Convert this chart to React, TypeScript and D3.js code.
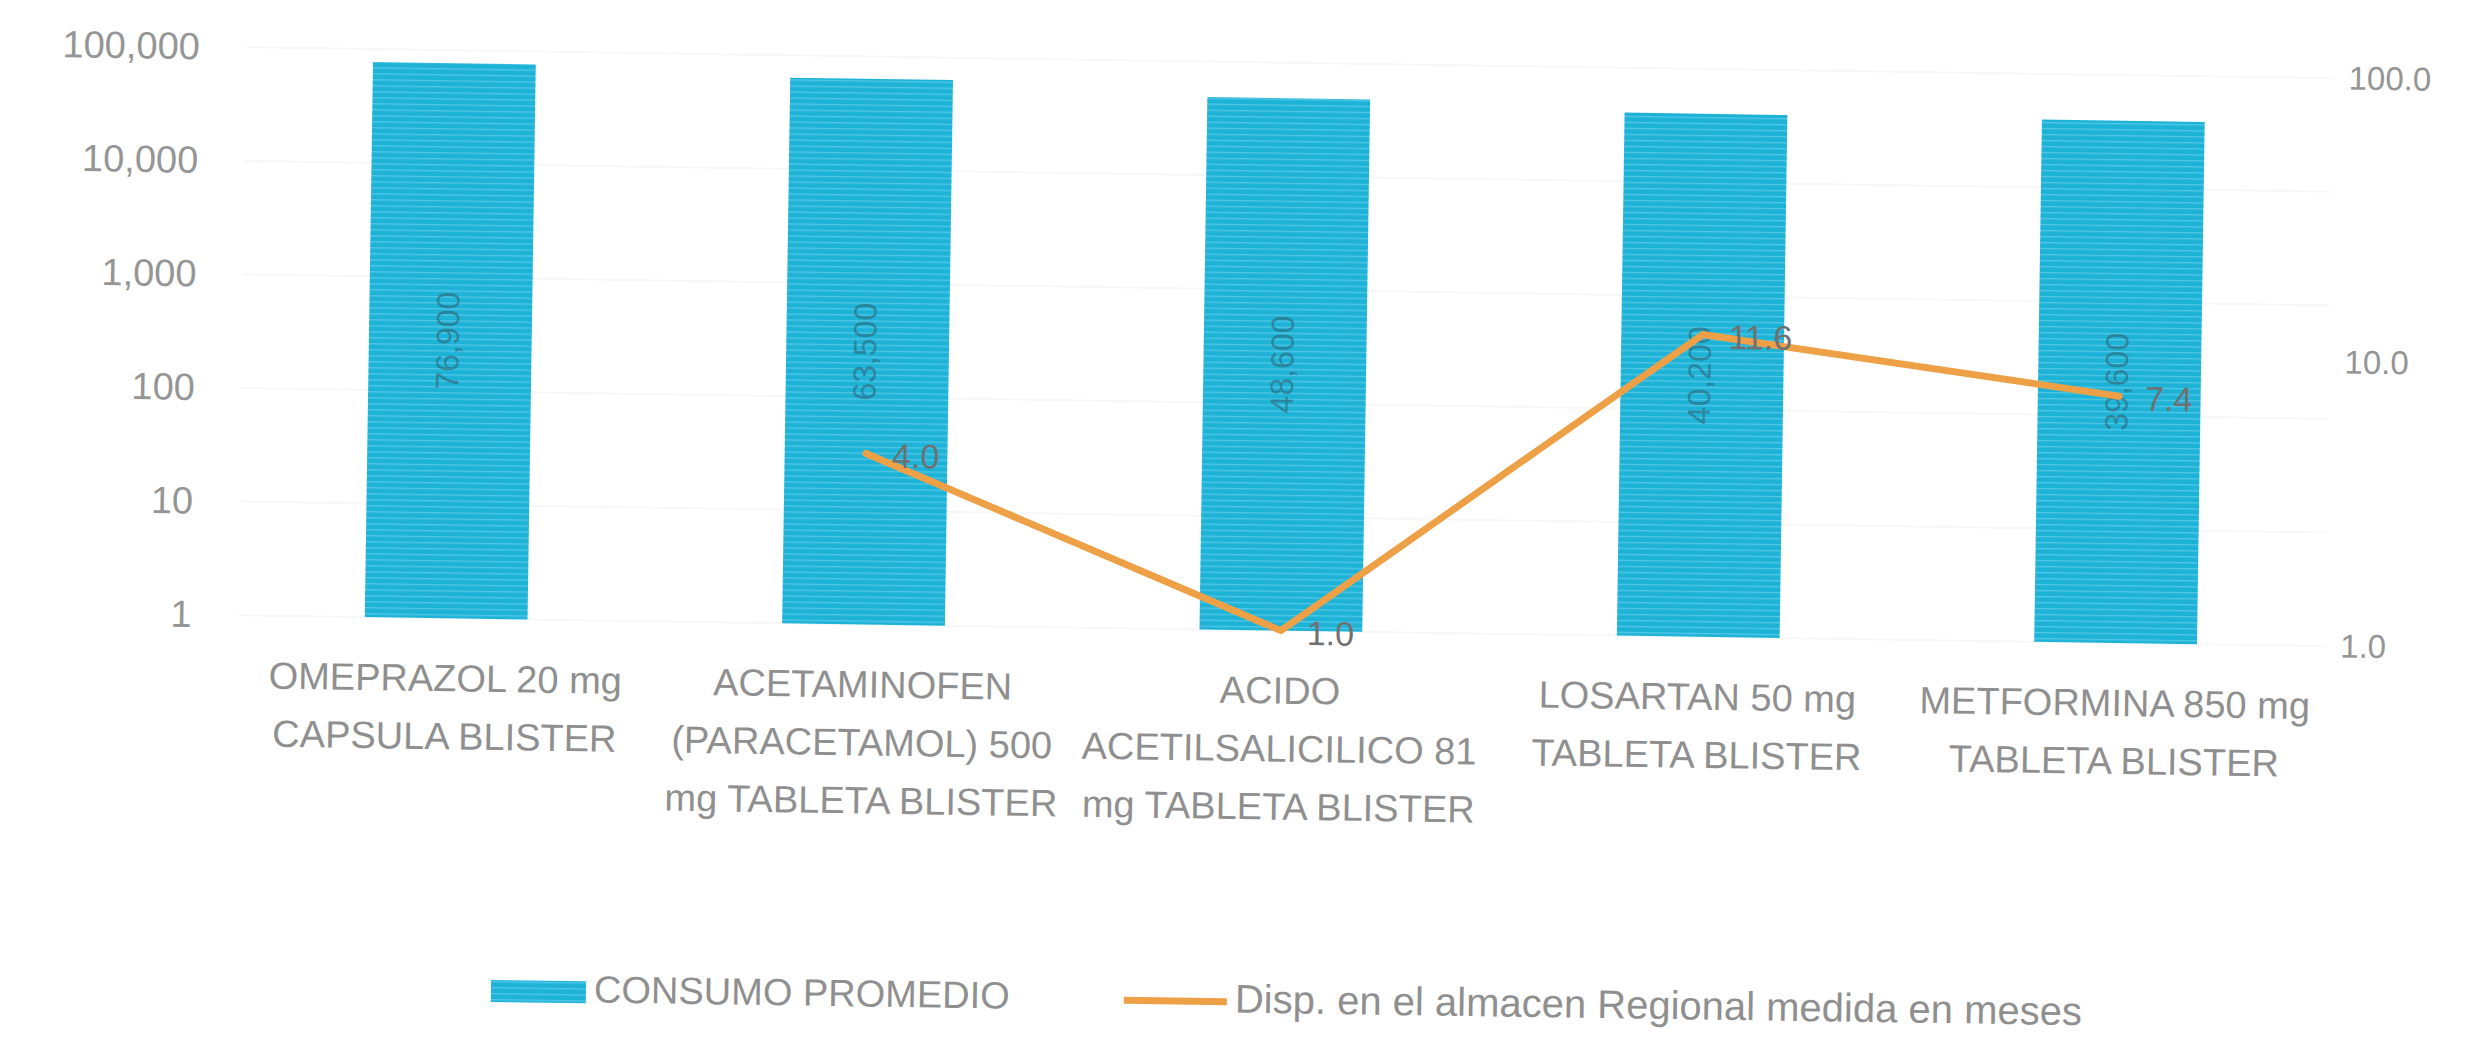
import React, { useEffect, useRef } from 'react';
import * as d3 from 'd3';

// Categories (wrapped as in the original chart)
const CATEGORY_LINES: string[][] = [
  ['OMEPRAZOL 20 mg', 'CAPSULA BLISTER'],
  ['ACETAMINOFEN', '(PARACETAMOL) 500', 'mg TABLETA BLISTER'],
  ['ACIDO', 'ACETILSALICILICO 81', 'mg TABLETA BLISTER'],
  ['LOSARTAN 50 mg', 'TABLETA BLISTER'],
  ['METFORMINA 850 mg', 'TABLETA BLISTER'],
];

// Consumo promedio (left, log axis)
const CONSUMO = [76900, 63500, 48600, 40200, 39600];
// Disponibilidad en meses (right, log axis) - first product has no value
const DISP: (number | null)[] = [null, 4.0, 1.0, 11.6, 7.4];

const LEFT_TICKS = [1, 10, 100, 1000, 10000, 100000];
const RIGHT_TICKS = [1, 10, 100];

const SERIES_NAMES = ['CONSUMO PROMEDIO', 'Disp. en el almacen Regional medida en meses'];

const BAR_COLOR = '#1db3d7';
const LINE_COLOR = '#eea046';
const FONT = '"Liberation Sans", Arial, sans-serif';

const App: React.FC = () => {
  const svgRef = useRef<SVGSVGElement>(null);

  useEffect(() => {
    if (!svgRef.current) return;
    d3.select(svgRef.current).selectAll('*').remove();

    const W = 2481;
    const H = 1045;
    const plot = { left: 239, right: 2326, top: 62, bottom: 630 };

    const svg = d3.select(svgRef.current).attr('width', W).attr('height', H);

    svg.append('rect').attr('width', W).attr('height', H).attr('fill', '#ffffff');

    // scan texture for the bars
    const defs = svg.append('defs');
    const pat = defs.append('pattern')
      .attr('id', 'scanBar')
      .attr('patternUnits', 'userSpaceOnUse')
      .attr('width', 40)
      .attr('height', 6);
    pat.append('rect').attr('width', 40).attr('height', 6).attr('fill', BAR_COLOR);
    pat.append('rect').attr('y', 2).attr('width', 40).attr('height', 1.4).attr('fill', '#5ccbe8').attr('opacity', 0.8);

    // the scanned page is slightly tilted
    const g = svg.append('g').attr('transform', 'rotate(0.85, 1240, 520)');

    const x = d3.scaleBand<number>()
      .domain(d3.range(CONSUMO.length))
      .range([plot.left, plot.right])
      .paddingInner(0.61)
      .paddingOuter(0.305);

    const yLeft = d3.scaleLog().domain([1, 100000]).range([plot.bottom, plot.top]);
    const yRight = d3.scaleLog().domain([1, 100]).range([plot.bottom, plot.top]);

    // faint gridlines
    g.append('g')
      .selectAll('line')
      .data(LEFT_TICKS)
      .enter()
      .append('line')
      .attr('x1', plot.left)
      .attr('x2', plot.right)
      .attr('y1', d => yLeft(d))
      .attr('y2', d => yLeft(d))
      .attr('stroke', '#f7f7f7')
      .attr('stroke-width', 2);

    // left axis
    const leftAxis = g.append('g')
      .attr('transform', `translate(${plot.left},0)`)
      .call(d3.axisLeft(yLeft).tickValues(LEFT_TICKS).tickFormat(d3.format(',') as any).tickSize(0).tickPadding(46));
    leftAxis.select('.domain').remove();
    leftAxis.selectAll('text')
      .attr('font-family', FONT)
      .attr('font-size', 38)
      .attr('fill', '#959595');

    // right axis
    const rightAxis = g.append('g')
      .attr('transform', `translate(${plot.right},0)`)
      .call(d3.axisRight(yRight).tickValues(RIGHT_TICKS).tickFormat(d3.format('.1f') as any).tickSize(0).tickPadding(16));
    rightAxis.select('.domain').remove();
    rightAxis.selectAll('text')
      .attr('font-family', FONT)
      .attr('font-size', 33)
      .attr('fill', '#959595');

    // bars
    g.append('g')
      .selectAll('rect')
      .data(CONSUMO)
      .enter()
      .append('rect')
      .attr('x', (d, i) => x(i)!)
      .attr('width', x.bandwidth())
      .attr('y', d => yLeft(d))
      .attr('height', d => yLeft(1) - yLeft(d))
      .attr('fill', 'url(#scanBar)');

    // bar value labels (rotated, centered)
    g.append('g')
      .selectAll('text')
      .data(CONSUMO)
      .enter()
      .append('text')
      .attr('transform', (d, i) => {
        const cx = x(i)! + x.bandwidth() / 2;
        const cy = (yLeft(d) + yLeft(1)) / 2;
        return `translate(${cx},${cy}) rotate(-90)`;
      })
      .attr('text-anchor', 'middle')
      .attr('dominant-baseline', 'middle')
      .attr('font-family', FONT)
      .attr('font-size', 32)
      .attr('fill', '#2f5663')
      .attr('opacity', 0.5)
      .text(d => d3.format(',')(d));

    // line series
    const pts = DISP.map((v, i) => ({ v, i }));
    const line = d3.line<{ v: number | null; i: number }>()
      .defined(d => d.v != null)
      .x(d => x(d.i)! + x.bandwidth() / 2)
      .y(d => yRight(d.v as number));

    g.append('path')
      .datum(pts)
      .attr('d', line)
      .attr('fill', 'none')
      .attr('stroke', LINE_COLOR)
      .attr('stroke-width', 7)
      .attr('stroke-linejoin', 'round')
      .attr('stroke-linecap', 'round');

    g.append('g')
      .selectAll('text')
      .data(pts.filter(d => d.v != null))
      .enter()
      .append('text')
      .attr('x', d => x(d.i)! + x.bandwidth() / 2 + 26)
      .attr('y', d => yRight(d.v as number) + 5)
      .attr('dominant-baseline', 'middle')
      .attr('font-family', FONT)
      .attr('font-size', 34)
      .attr('fill', '#707070')
      .text(d => d3.format('.1f')(d.v as number));

    // category labels
    const cat = g.append('g')
      .selectAll('text')
      .data(CATEGORY_LINES)
      .enter()
      .append('text')
      .attr('text-anchor', 'middle')
      .attr('font-family', FONT)
      .attr('font-size', 38)
      .attr('fill', '#8f8f8f');
    cat.each(function (lines, i) {
      const t = d3.select(this);
      lines.forEach((ln, j) => {
        t.append('tspan')
          .attr('x', x(i)! + x.bandwidth() / 2)
          .attr('y', plot.bottom + 63 + j * 58)
          .attr('dominant-baseline', 'middle')
          .text(ln);
      });
    });

    // legend
    const legendY = 1002;
    const lg = g.append('g');
    lg.append('rect')
      .attr('x', 498)
      .attr('y', legendY - 11)
      .attr('width', 95)
      .attr('height', 22)
      .attr('fill', 'url(#scanBar)');
    lg.append('text')
      .attr('x', 601)
      .attr('y', legendY)
      .attr('dominant-baseline', 'middle')
      .attr('font-family', FONT)
      .attr('font-size', 38)
      .attr('fill', '#8f8f8f')
      .text(SERIES_NAMES[0]);
    lg.append('line')
      .attr('x1', 1131)
      .attr('x2', 1234)
      .attr('y1', legendY)
      .attr('y2', legendY)
      .attr('stroke', LINE_COLOR)
      .attr('stroke-width', 7);
    lg.append('text')
      .attr('x', 1242)
      .attr('y', legendY)
      .attr('dominant-baseline', 'middle')
      .attr('font-family', FONT)
      .attr('font-size', 40)
      .attr('fill', '#8f8f8f')
      .text(SERIES_NAMES[1]);
  }, []);

  return (
    <svg ref={svgRef} style={{ position: 'absolute', left: 0, top: 0, display: 'block' }}></svg>
  );
};

export default App;
